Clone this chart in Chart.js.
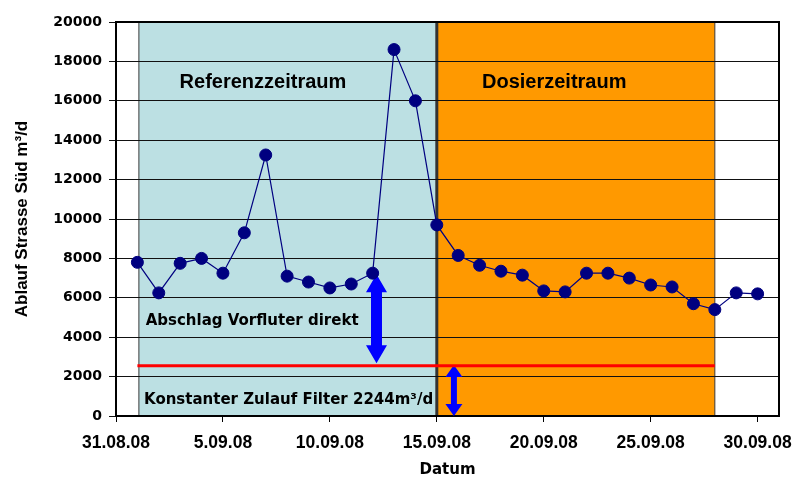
<!DOCTYPE html>
<html><head><meta charset="utf-8">
<script src="https://cdn.jsdelivr.net/npm/chart.js@4/dist/chart.umd.min.js"></script>
<style>html,body{margin:0;padding:0;background:#fff;}#wrap{width:795px;height:479px;}</style>
</head><body><div id="wrap"><canvas id="c" width="795" height="479"></canvas></div>
<script>
// day index counted from 31.08.2008 (0) -> 1 = 01.09.08 ... 30 = 30.09.08
const days = [1,2,3,4,5,6,7,8,9,10,11,12,13,14,15,16,17,18,19,20,21,22,23,24,25,26,27,28,29,30];
const flow = [7800,6250,7750,8000,7250,9300,13250,7100,6800,6500,6700,7250,18600,16000,9700,
              8150,7650,7350,7150,6350,6300,7250,7250,7000,6650,6550,5700,5400,6250,6200];
const tickValues = [0,5,10,15,20,25,30];
const tickLabels = ['31.08.08','5.09.08','10.09.08','15.09.08','20.09.08','25.09.08','30.09.08'];
const filterDays = [1, 28];
const filterLevel = [2550, 2550];
const referencePeriod = [1.07, 15];
const dosingPeriod = [15, 28];
const arrowDischarge = [12.18, 7200, 2680];   // day, from, to
const arrowFilter = [15.8, 2590, 0];

const FONT = '"Liberation Sans", Arial, sans-serif';
const DEJA = '"DejaVu Sans", sans-serif';

const decor = {
  id: 'decor',
  beforeDraw(chart) {
    const {ctx, scales: {x, y}} = chart;
    const top = y.getPixelForValue(y.max), bot = y.getPixelForValue(0);
    ctx.save();
    const region = (p, fill) => {
      const x1 = x.getPixelForValue(p[0]), x2 = x.getPixelForValue(p[1]);
      ctx.fillStyle = fill;
      ctx.fillRect(x1, top, x2 - x1, bot - top);
      ctx.strokeStyle = '#3a3a3a'; ctx.lineWidth = 1;
      ctx.strokeRect(x1, top, x2 - x1, bot - top);
    };
    region(referencePeriod, '#BCE0E3');
    region(dosingPeriod, '#FF9900');
    const xs = x.getPixelForValue(dosingPeriod[0]);
    ctx.strokeStyle = '#333'; ctx.lineWidth = 3;
    ctx.beginPath(); ctx.moveTo(xs, top); ctx.lineTo(xs, bot); ctx.stroke();
    ctx.restore();
  },
  beforeDatasetsDraw(chart) {
    const {ctx, chartArea: a, scales: {x, y}} = chart;
    ctx.save();
    // top/right frame
    ctx.strokeStyle = '#000'; ctx.lineWidth = 2;
    ctx.beginPath(); ctx.moveTo(a.left, a.top); ctx.lineTo(a.right, a.top); ctx.lineTo(a.right, a.bottom); ctx.stroke();
    // arrows
    const dArrow = (spec, headLen, headW, shaftW) => {
      const cx = x.getPixelForValue(spec[0]);
      const y1 = y.getPixelForValue(spec[1]), y2 = y.getPixelForValue(spec[2]);
      ctx.beginPath();
      ctx.moveTo(cx, y1);
      ctx.lineTo(cx + headW / 2, y1 + headLen);
      ctx.lineTo(cx + shaftW / 2, y1 + headLen);
      ctx.lineTo(cx + shaftW / 2, y2 - headLen);
      ctx.lineTo(cx + headW / 2, y2 - headLen);
      ctx.lineTo(cx, y2);
      ctx.lineTo(cx - headW / 2, y2 - headLen);
      ctx.lineTo(cx - shaftW / 2, y2 - headLen);
      ctx.lineTo(cx - shaftW / 2, y1 + headLen);
      ctx.lineTo(cx - headW / 2, y1 + headLen);
      ctx.closePath();
      ctx.fillStyle = '#0000FF';
      ctx.fill();
    };
    dArrow(arrowDischarge, 18, 21, 11);
    dArrow(arrowFilter, 12, 17, 6);
    // texts
    ctx.fillStyle = '#000';
    ctx.textBaseline = 'alphabetic';
    ctx.font = 'bold 20px ' + FONT;
    ctx.textAlign = 'center';
    ctx.fillText('Referenzzeitraum', x.getPixelForValue(6.87), y.getPixelForValue(16650));
    ctx.fillText('Dosierzeitraum', x.getPixelForValue(20.49), y.getPixelForValue(16650));
    ctx.font = 'bold 15px ' + DEJA;
    ctx.textAlign = 'left';
    ctx.fillText('Abschlag Vorfluter direkt', x.getPixelForValue(1.386), y.getPixelForValue(4620));
    ctx.fillText('Konstanter Zulauf Filter 2244m³/d', x.getPixelForValue(1.31), y.getPixelForValue(610));
    ctx.restore();
  }
};

new Chart(document.getElementById('c'), {
  type: 'line',
  data: {
    datasets: [
      {
        label: 'Ablauf Strasse Süd',
        data: days.map((d, i) => ({x: d, y: flow[i]})),
        borderColor: '#000080', backgroundColor: '#000080', borderWidth: 1.2,
        pointRadius: 6, pointBorderWidth: 1, pointBorderColor: '#000080', pointBackgroundColor: '#000080',
        tension: 0, order: 1
      },
      {
        label: 'Konstanter Zulauf Filter',
        data: filterDays.map((d, i) => ({x: d, y: filterLevel[i]})),
        borderColor: '#FF0000', borderWidth: 3, pointRadius: 0, tension: 0, order: 2
      }
    ]
  },
  options: {
    responsive: false, animation: false, devicePixelRatio: 1,
    layout: {padding: {left: 0, right: 16, top: 22, bottom: 0}},
    plugins: {legend: {display: false}, tooltip: {enabled: false}},
    scales: {
      x: {
        type: 'linear', min: 0, max: 31,
        ticks: {
          stepSize: 5, includeBounds: false, autoSkip: false, maxRotation: 0, minRotation: 0,
          color: '#000', padding: 11,
          font: {family: FONT, size: 17.5, weight: 'bold'},
          callback: v => { const i = tickValues.indexOf(v); return i >= 0 ? tickLabels[i] : ''; }
        },
        grid: {drawOnChartArea: false, drawTicks: true, tickLength: 6, color: '#000', lineWidth: 1},
        border: {color: '#000', width: 2},
        title: {display: true, text: 'Datum', color: '#000',
                font: {family: DEJA, size: 15, weight: 'bold', lineHeight: 1}, padding: {top: 0, bottom: 1}},
        afterFit(s) { s.height = 63; s.paddingLeft = 0; s.paddingRight = 0; }
      },
      y: {
        min: 0, max: 20000,
        ticks: {stepSize: 2000, color: '#000', padding: 7, font: {family: DEJA, size: 14, weight: 'bold'},
                callback: v => String(v)},
        grid: {color: '#111', lineWidth: 1, tickLength: 7},
        border: {color: '#000', width: 2},
        title: {display: true, text: 'Ablauf Strasse Süd m³/d', color: '#000',
                font: {family: FONT, size: 17, weight: 'bold', lineHeight: 1}, padding: {top: 14, bottom: 0}},
        afterFit(s) { s.width = 116; s.paddingTop = 0; s.paddingBottom = 0; }
      }
    }
  },
  plugins: [decor]
});
</script></body></html>
